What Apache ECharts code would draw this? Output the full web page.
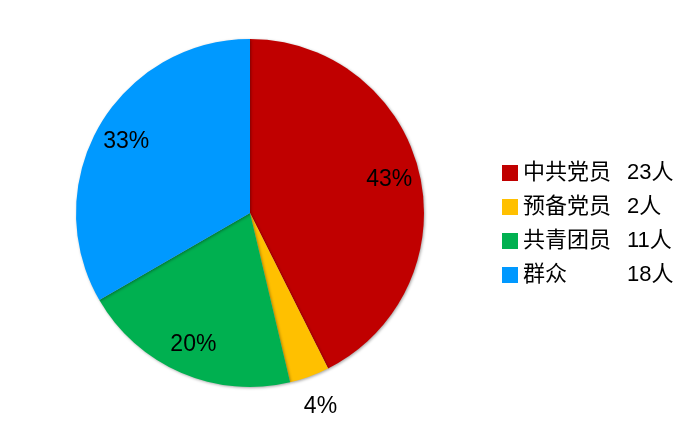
<!DOCTYPE html>
<html lang="zh">
<head>
    <meta charset="UTF-8">
    <title>人员构成</title>
    <script src="https://cdn.jsdelivr.net/npm/echarts@6/dist/echarts.min.js"></script>
    <style>
        html, body { margin: 0; padding: 0; background: #fff; }
        #main { width: 688px; height: 427px; }
    </style>
</head>
<body>
    <div id="main"></div>
    <script>
        // 数据
        const categories = ['中共党员', '预备党员', '共青团员', '群众']
        const counts = [23, 2, 11, 18]
        const unit = '人'
        const colors = ['#C00000', '#FFC000', '#00B050', '#0099FF']

        const total = counts.reduce((a, b) => a + b, 0)
        const pieData = categories.map((name, i) => ({ name: name, value: counts[i] }))
        const isSmall = v => v / total < 0.05 // 小扇区的标签放到外面

        const font = 'Liberation Sans, Arial, "Noto Sans CJK SC", sans-serif'
        const center = [250, 213]
        const R = 174

        let chart = echarts.init(document.getElementById('main'))

        const labelSeries = (radius, pick) => ({
            type: 'pie',
            center: center,
            radius: radius,
            startAngle: 90,
            silent: true,
            percentPrecision: 0,
            data: pieData,
            itemStyle: { color: 'rgba(0,0,0,0)' },
            label: {
                position: 'inside',
                fontFamily: font,
                fontSize: 23,
                color: '#000',
                formatter: p => pick(p.value) ? p.percent + '%' : ''
            },
            labelLine: { show: false },
            emphasis: { disabled: true },
            tooltip: { show: false }
        })

        chart.setOption({
            animation: false,
            color: colors,
            tooltip: { trigger: 'item', formatter: '{b}: {c}' + unit + ' ({d}%)' },
            legend: {
                orient: 'vertical',
                left: 497,
                top: 157,
                icon: 'rect',
                itemWidth: 16,
                itemHeight: 16,
                itemGap: 12,
                itemTextGap: 10,
                data: categories,
                formatter: name => '{n|' + name + '}{v|' + counts[categories.indexOf(name)] + unit + '}',
                textStyle: {
                    rich: {
                        n: { fontFamily: font, fontSize: 22, width: 104, color: '#000', lineHeight: 22 },
                        v: { fontFamily: font, fontSize: 22, color: '#000', lineHeight: 22 }
                    }
                }
            },
            series: [
                {
                    type: 'pie',
                    center: center,
                    radius: [0, R],
                    startAngle: 90,
                    data: pieData,
                    label: { show: false },
                    labelLine: { show: false },
                    itemStyle: {
                        shadowColor: 'rgba(0,0,0,0.35)',
                        shadowBlur: 3,
                        shadowOffsetX: 1,
                        shadowOffsetY: 1
                    }
                },
                labelSeries([106, R], v => !isSmall(v)),
                labelSeries([R, 232], v => isSmall(v))
            ]
        })
    </script>
</body>
</html>
